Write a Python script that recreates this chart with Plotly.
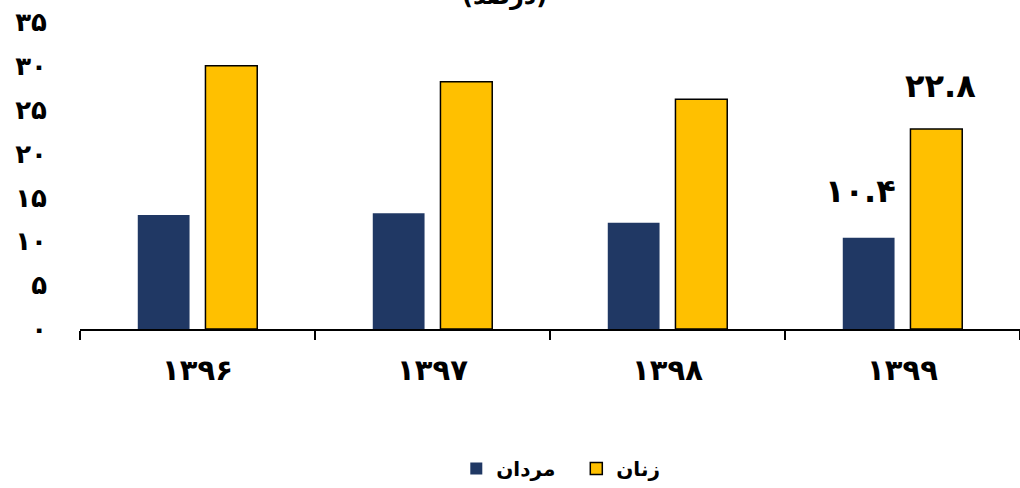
import plotly.graph_objects as go

years = ["1396", "1397", "1398", "1399"]
men = [13.0, 13.2, 12.1, 10.4]
women = [30.0, 28.2, 26.2, 22.8]
series_names = ["مردان", "زنان"]
y_ticks = [0, 5, 10, 15, 20, 25, 30, 35]
title_text = "(درصد)"

FA = str.maketrans("0123456789.", "۰۱۲۳۴۵۶۷۸۹.")


def fa(s):
    return str(s).translate(FA)


cats = [fa(y) for y in years]
FONT = "DejaVu Sans"

fig = go.Figure()
fig.add_trace(go.Bar(
    x=cats, y=men, name=series_names[0],
    marker=dict(color="#203864", line=dict(width=0)),
))
fig.add_trace(go.Bar(
    x=cats, y=women, name=series_names[1],
    marker=dict(color="#FFC000", line=dict(color="#000000", width=1.5)),
))

# data labels for the last year
fig.add_annotation(x=cats[-1], y=men[-1], text="<b>" + fa(men[-1]) + "</b>",
                   xref="x", yref="y", showarrow=False, yanchor="bottom",
                   yshift=26, xshift=-42, font=dict(size=32, color="#000", family=FONT))
fig.add_annotation(x=cats[-1], y=women[-1], text="<b>" + fa(women[-1]) + "</b>",
                   xref="x", yref="y", showarrow=False, yanchor="bottom",
                   yshift=22, xshift=38, font=dict(size=32, color="#000", family=FONT))

fig.add_annotation(x=0.452, y=1, xref="paper", yref="paper", text="<b>" + title_text + "</b>",
                   showarrow=False, yanchor="bottom", yshift=10,
                   font=dict(size=24, color="#000", family=FONT))

fig.update_layout(
    width=1020, height=488,
    margin=dict(l=80, r=0, t=22, b=159, autoexpand=False),
    paper_bgcolor="white", plot_bgcolor="white",
    barmode="group", bargap=0.424, bargroupgap=0.235,
    font=dict(family=FONT, color="#000"),
    showlegend=True,
    legend=dict(orientation="h", x=0.565, xref="container", xanchor="center",
                y=0.0, yref="container", yanchor="bottom",
                font=dict(size=20, family=FONT, weight="bold"),
                itemwidth=30, entrywidth=75, entrywidthmode="pixels"),
    xaxis=dict(showline=True, linecolor="#000", linewidth=1.5, automargin=False,
               ticks="outside", tickson="boundaries", ticklen=9, tickwidth=1.5,
               tickcolor="#000", ticklabelstandoff=14,
               tickfont=dict(size=29, family=FONT, weight="bold"),
               showgrid=False, zeroline=False),
    yaxis=dict(range=[0, 35], tickvals=y_ticks, ticktext=[fa(v) for v in y_ticks],
               showgrid=False, zeroline=False, showline=False, automargin=False,
               ticklabelstandoff=32,
               tickfont=dict(size=26, family=FONT, weight="bold")),
)

fig.write_html("out.html", config={"displayModeBar": False},
               post_script="document.body.style.margin='0';")
